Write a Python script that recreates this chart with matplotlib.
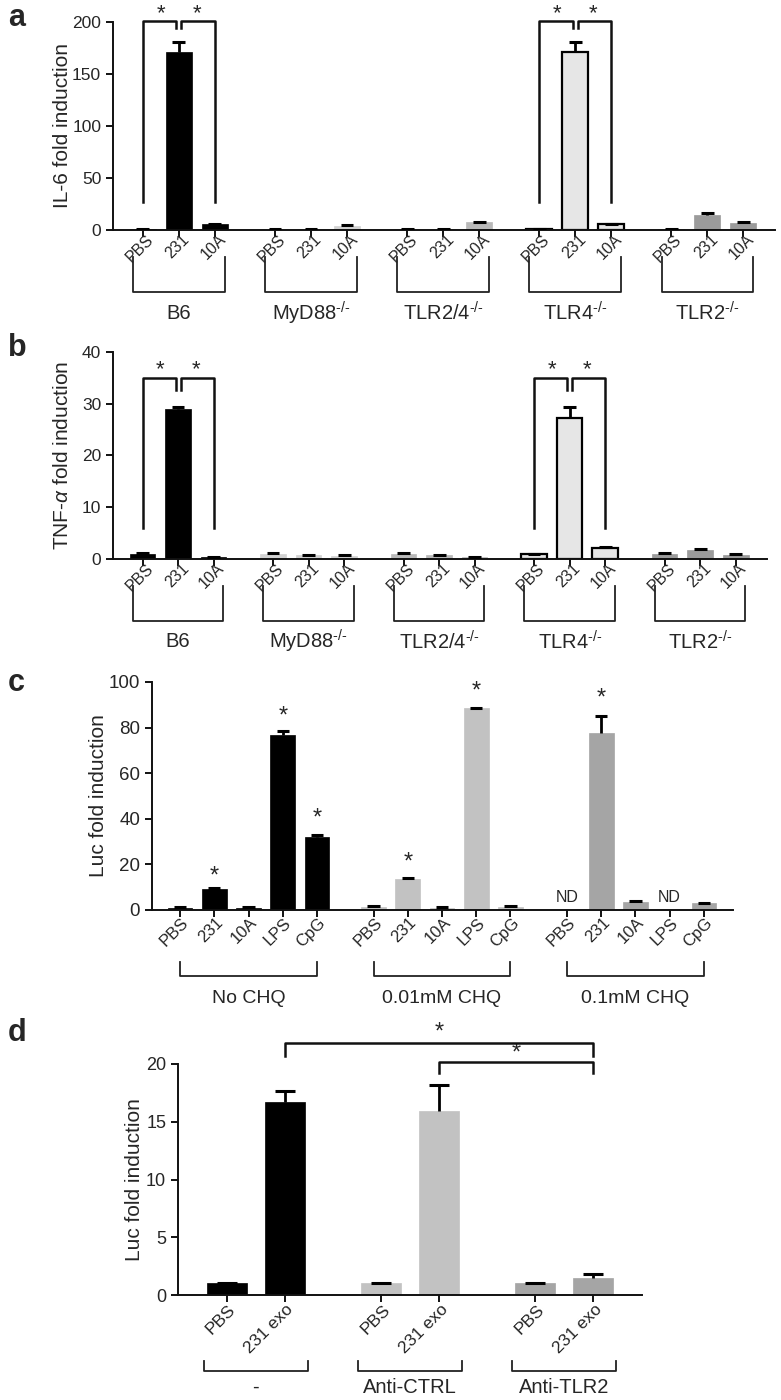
import matplotlib
matplotlib.use("Agg")
import matplotlib.pyplot as plt
import matplotlib.transforms as mtransforms
import numpy as np

plt.rcParams['font.family'] = ['Liberation Sans', 'DejaVu Sans']
plt.rcParams['mathtext.fontset'] = 'custom'
plt.rcParams['mathtext.rm'] = 'Liberation Sans'
plt.rcParams['mathtext.it'] = 'Liberation Sans:italic'
TXT = '#262626'

# ---------------- data ----------------
ab_groups = ['B6', r'MyD88$^{\text{-/-}}$', r'TLR2/4$^{\text{-/-}}$', r'TLR4$^{\text{-/-}}$', r'TLR2$^{\text{-/-}}$']
ab_treat = ['PBS', '231', '10A']
a_vals = [[1.0, 171, 5.5], [1.0, 0.6, 4.0], [1.0, 1.0, 7.5], [1.0, 171, 5.5], [1.0, 14, 6.5]]
a_err = [[0.3, 10, 0.6], [0.4, 0.4, 1.0], [0.3, 0.3, 0.6], [0.3, 10, 0.6], [0.4, 2.0, 1.2]]
b_vals = [[1.0, 29, 0.3], [1.0, 0.7, 0.6], [1.0, 0.7, 0.3], [1.0, 27.3, 2.2], [1.0, 1.8, 0.8]]
b_err = [[0.1, 0.4, 0.05], [0.1, 0.1, 0.1], [0.1, 0.1, 0.1], [0.05, 2.0, 0.15], [0.1, 0.1, 0.1]]

c_groups = ['No CHQ', '0.01mM CHQ', '0.1mM CHQ']
c_treat = ['PBS', '231', '10A', 'LPS', 'CpG']
c_vals = [[1.0, 9.2, 1.0, 76.8, 31.9], [1.5, 13.6, 1.0, 88.5, 1.5], [0.0, 77.5, 3.4, 0.0, 3.0]]
c_err = [[0.2, 0.3, 0.2, 1.7, 1.0], [0.2, 0.3, 0.3, 0.3, 0.2], [0.0, 7.5, 0.7, 0.0, 0.2]]
c_nd = [[False] * 5, [False] * 5, [True, False, False, True, False]]

d_groups = ['-', 'Anti-CTRL', 'Anti-TLR2']
d_treat = ['PBS', '231 exo']
d_vals = [[1.0, 16.7], [1.0, 15.9], [1.0, 1.5]]
d_err = [[0.05, 1.0], [0.05, 2.3], [0.05, 0.3]]

ab_colors = ['#000000', '#d2d2d2', '#b9b9b9', '#e6e6e6', '#9b9b9b']
ab_edges = ['#000000', '#d2d2d2', '#b9b9b9', '#000000', '#9b9b9b']
c_colors = ['#000000', '#c2c2c2', '#a5a5a5']
d_colors = ['#000000', '#c2c2c2', '#a5a5a5']

W, H = 781, 1400
fig = plt.figure(figsize=(W / 100, H / 100), dpi=100)


def mk_axes(l, r, t, b):
    return fig.add_axes([l / W, 1 - b / H, (r - l) / W, (b - t) / H])


def style(ax, ylab, fs_tick, fs_lab, fs_x, shift):
    for s in ['top', 'right']:
        ax.spines[s].set_visible(False)
    for s in ['left', 'bottom']:
        ax.spines[s].set_linewidth(1.4)
        ax.spines[s].set_color('#111111')
    ax.tick_params(axis='both', direction='out', length=5, width=1.4, color='#111111',
                   labelsize=fs_tick, labelcolor=TXT)
    ax.tick_params(axis='x', labelsize=fs_x, pad=0)
    off = mtransforms.ScaledTranslation(shift[0] / 100, -shift[1] / 100, fig.dpi_scale_trans)
    for lbl in ax.get_xticklabels():
        lbl.set_rotation(45)
        lbl.set_ha('right')
        lbl.set_va('top')
        lbl.set_rotation_mode('anchor')
        lbl.set_transform(lbl.get_transform() + off)
    ax.set_ylabel(ylab, fontsize=fs_lab, color=TXT)


def draw_bars(ax, pos, vals, errs, color, edge, width, lw):
    ax.bar(pos, vals, width=width, color=color, edgecolor=edge, linewidth=lw, zorder=2)
    pos = np.asarray(pos); vals = np.asarray(vals); errs = np.asarray(errs)
    m = errs > 0
    ax.vlines(pos[m], vals[m], vals[m] + errs[m], color='black', lw=2.0, zorder=3)
    ax.hlines(vals[m] + errs[m], pos[m] - width * 0.25, pos[m] + width * 0.25,
              color='black', lw=2.2, zorder=3)


def group_brackets(ax, centers_lo, centers_hi, labels, y_top, y_bot, y_lab, fs, pad=0.1):
    tr = ax.get_xaxis_transform()
    for lo, hi, lab in zip(centers_lo, centers_hi, labels):
        ax.plot([lo - pad, lo - pad, hi + pad, hi + pad], [y_top, y_bot, y_bot, y_top],
                transform=tr, color='#222222', lw=1.3, clip_on=False)
        ax.text((lo + hi) / 2, y_lab, lab, transform=tr, ha='center', va='center',
                fontsize=fs, color=TXT, clip_on=False)


def sig_pair(ax, xl, xm, xr, y_top, y_left, y_mid, y_right, y_star, gap=0.07):
    kw = dict(color='#111111', lw=1.8, clip_on=False, zorder=4)
    ax.plot([xl, xl, xm - gap, xm - gap], [y_left, y_top, y_top, y_mid], **kw)
    ax.plot([xm + gap, xm + gap, xr, xr], [y_mid, y_top, y_top, y_right], **kw)
    ax.text((xl + xm) / 2, y_star, '*', ha='center', va='center', fontsize=16, color=TXT, clip_on=False)
    ax.text((xm + xr) / 2, y_star, '*', ha='center', va='center', fontsize=16, color=TXT, clip_on=False)


# ---------------- panels a & b ----------------
GAB = 3.67
for pi, (vals, errs, ylab, ymax, yt, (t, b, r), sig) in enumerate([
        (a_vals, a_err, 'IL-6 fold induction', 200, [0, 50, 100, 150, 200], (22, 230, 775),
         dict(top=201, left=27, mid=194, star=208)),
        (b_vals, b_err, r'TNF-$\mathit{\alpha}$ fold induction', 40, [0, 10, 20, 30, 40], (352, 559, 767),
         dict(top=35, left=6, mid=32.7, star=36.6))]):
    ax = mk_axes(113, r, t, b)
    allpos, alllab = [], []
    for g in range(len(ab_groups)):
        pos = [g * GAB + i for i in range(len(ab_treat))]
        lw = 1.6 if g == 3 else 0.5
        draw_bars(ax, pos, vals[g], errs[g], ab_colors[g], ab_edges[g], 0.72, lw)
        allpos += pos
        alllab += ab_treat
    ax.set_xlim(-0.83, (len(ab_groups) - 1) * GAB + 2 + 0.88)
    ax.set_ylim(0, ymax)
    ax.set_yticks(yt)
    ax.set_xticks(allpos)
    ax.set_xticklabels(alllab)
    style(ax, ylab, 12.5, 15, 11.5, (3, -5))
    ax.yaxis.set_label_coords(-0.062, 0.5)
    for g in [0, 3]:
        x0 = g * GAB
        sig_pair(ax, x0, x0 + 1, x0 + 2, sig['top'], sig['left'], sig['mid'], sig['left'], sig['star'])
    group_brackets(ax, [g * GAB for g in range(5)], [g * GAB + 2 for g in range(5)], ab_groups,
                   -0.13, -0.30, -0.40, 14.5, pad=0.27)
    fig.text(8 / W, 1 - (18 + pi * 330) / H, 'ab'[pi], fontsize=22, fontweight='bold',
             color=TXT, va='center', ha='left')

# ---------------- panel c ----------------
GC = 5.65
axc = mk_axes(152, 733, 682, 910)
allpos, alllab = [], []
for g in range(len(c_groups)):
    pos = [g * GC + i for i in range(len(c_treat))]
    draw_bars(axc, pos, c_vals[g], c_err[g], c_colors[g], c_colors[g], 0.72, 0.5)
    for i, p in enumerate(pos):
        if c_nd[g][i]:
            axc.text(p, 5.5, 'ND', ha='center', va='center', fontsize=11.5, color=TXT)
    allpos += pos
    alllab += c_treat
axc.set_xlim(-0.82, 2 * GC + 4 + 0.85)
axc.set_ylim(0, 100)
axc.set_yticks([0, 20, 40, 60, 80, 100])
axc.set_xticks(allpos)
axc.set_xticklabels(alllab)
style(axc, 'Luc fold induction', 13.5, 15, 12, (1, -2))
axc.yaxis.set_label_coords(-0.076, 0.5)
c_stars = [(0, 1, 14.5), (0, 3, 85), (0, 4, 40), (1, 1, 20.7), (1, 3, 96), (2, 1, 92.7)]
for g, i, ys in c_stars:
    axc.text(g * GC + i, ys, '*', ha='center', va='center', fontsize=17, color=TXT)
group_brackets(axc, [g * GC for g in range(3)], [g * GC + 4 for g in range(3)], c_groups,
               -0.23, -0.29, -0.39, 14, pad=0.0)
fig.text(8 / W, 1 - 683 / H, 'c', fontsize=22, fontweight='bold', color=TXT, va='center', ha='left')

# ---------------- panel d ----------------
GD = 2.67
axd = mk_axes(178, 642, 1064, 1295)
allpos, alllab = [], []
for g in range(len(d_groups)):
    pos = [g * GD + i for i in range(len(d_treat))]
    draw_bars(axd, pos, d_vals[g], d_err[g], d_colors[g], d_colors[g], 0.69, 0.5)
    allpos += pos
    alllab += d_treat
axd.set_xlim(-0.85, 2 * GD + 1 + 0.85)
axd.set_ylim(0, 20)
axd.set_yticks([0, 5, 10, 15, 20])
axd.set_xticks(allpos)
axd.set_xticklabels(alllab)
style(axd, 'Luc fold induction', 13, 15, 12.5, (1, 0))
axd.yaxis.set_label_coords(-0.073, 0.5)
kw = dict(color='#111111', lw=1.8, clip_on=False, zorder=4)
x1, x2, x3 = 1, GD + 1, 2 * GD + 1
axd.plot([x1, x1, x3, x3], [20.7, 21.85, 21.85, 20.7], **kw)
axd.plot([x2, x2, x3, x3], [19.2, 20.2, 20.2, 19.2], **kw)
axd.text((x1 + x3) / 2, 22.7, '*', ha='center', va='center', fontsize=17, color=TXT, clip_on=False)
axd.text((x2 + x3) / 2, 20.9, '*', ha='center', va='center', fontsize=17, color=TXT, clip_on=False)
group_brackets(axd, [g * GD for g in range(3)], [g * GD + 1 for g in range(3)], d_groups,
               -0.285, -0.33, -0.40, 14.5, pad=0.4)
fig.text(8 / W, 1 - 1033 / H, 'd', fontsize=22, fontweight='bold', color=TXT, va='center', ha='left')

fig.savefig('out.png', dpi=100)
